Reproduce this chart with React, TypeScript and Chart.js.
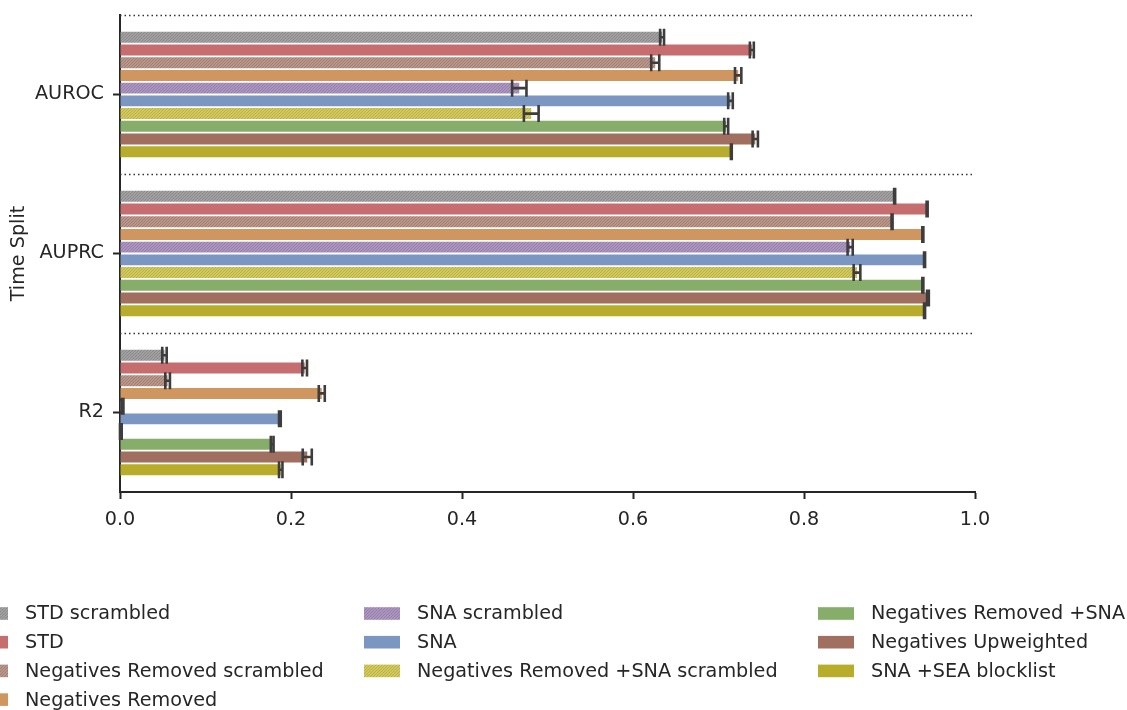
import React, { useEffect, useRef } from "react";
import { Chart, registerables } from "chart.js";

Chart.register(...registerables);

// ---------- data ----------
const categories = ["AUROC", "AUPRC", "R2"];
const seriesNames = [
  "STD scrambled",
  "STD",
  "Negatives Removed scrambled",
  "Negatives Removed",
  "SNA scrambled",
  "SNA",
  "Negatives Removed +SNA scrambled",
  "Negatives Removed +SNA",
  "Negatives Upweighted",
  "SNA +SEA blocklist",
];

const stdScrambled = [0.634, 0.906, 0.052];
const stdScrambledErr = [0.0023, 0.0006, 0.0026];
const std = [0.739, 0.944, 0.216];
const stdErr = [0.0023, 0.0006, 0.0027];
const negRemovedScrambled = [0.626, 0.903, 0.0557];
const negRemovedScrambledErr = [0.0047, 0.0006, 0.0027];
const negRemoved = [0.723, 0.939, 0.236];
const negRemovedErr = [0.0037, 0.0006, 0.0035];
const snaScrambled = [0.467, 0.854, 0.003];
const snaScrambledErr = [0.0084, 0.003, 0.001];
const sna = [0.714, 0.941, 0.187];
const snaErr = [0.0027, 0.0006, 0.001];
const negRemovedSnaScrambled = [0.481, 0.862, 0.001];
const negRemovedSnaScrambledErr = [0.0086, 0.0039, 0.001];
const negRemovedSna = [0.709, 0.939, 0.178];
const negRemovedSnaErr = [0.0023, 0.0006, 0.0016];
const negUpweighted = [0.743, 0.945, 0.219];
const negUpweightedErr = [0.0031, 0.001, 0.0053];
const snaSeaBlocklist = [0.715, 0.941, 0.188];
const snaSeaBlocklistErr = [0.0005, 0.0006, 0.002];

const xTickValues = [0, 0.2, 0.4, 0.6, 0.8, 1.0];

const seriesValues = [
  stdScrambled, std, negRemovedScrambled, negRemoved, snaScrambled,
  sna, negRemovedSnaScrambled, negRemovedSna, negUpweighted, snaSeaBlocklist,
];
const seriesErrors = [
  stdScrambledErr, stdErr, negRemovedScrambledErr, negRemovedErr, snaScrambledErr,
  snaErr, negRemovedSnaScrambledErr, negRemovedSnaErr, negUpweightedErr, snaSeaBlocklistErr,
];

// ---------- styles ----------
const baseColors = [
  "#a0a0a0", "#c56d6f", "#b9968a", "#cf9660", "#ab95bf",
  "#7b96c0", "#d1c85e", "#86ad6a", "#a06f60", "#b8ac2b",
];
const hatchColors = [
  "#8a8a8a", null, "#a07e72", null, "#9580ab",
  null, "#bbb144", null, null, null,
];

const FONT = "'DejaVu Sans', sans-serif";
const FONT_SIZE = 19.2;
const TEXT_COLOR = "#262626";
const AXIS_COLOR = "#262626";

function makeHatch(base: string, line: string): CanvasPattern | string {
  const c = document.createElement("canvas");
  const s = 3;
  c.width = s;
  c.height = s;
  const g = c.getContext("2d");
  if (!g) return base;
  g.fillStyle = base;
  g.fillRect(0, 0, s, s);
  g.strokeStyle = line;
  g.lineWidth = 1;
  g.beginPath();
  g.moveTo(-1, s + 1);
  g.lineTo(s + 1, -1);
  g.moveTo(-1, 1);
  g.lineTo(1, -1);
  g.moveTo(s - 1, s + 1);
  g.lineTo(s + 1, s - 1);
  g.stroke();
  const p = g.createPattern(c, "repeat");
  return p || base;
}

const errorBarPlugin = {
  id: "errorBars",
  afterDatasetsDraw(chart: any) {
    const ctx = chart.ctx;
    const xs = chart.scales.x;
    ctx.save();
    ctx.strokeStyle = "#3d3d3d";
    ctx.lineWidth = 2.6;
    const cap = 8.5;
    chart.data.datasets.forEach((ds: any, di: number) => {
      const meta = chart.getDatasetMeta(di);
      meta.data.forEach((el: any, i: number) => {
        const v = ds.data[i];
        const e = ds.errors[i];
        const x0 = xs.getPixelForValue(v - e);
        const x1 = xs.getPixelForValue(v + e);
        const y = el.y;
        ctx.beginPath();
        ctx.moveTo(x0, y);
        ctx.lineTo(x1, y);
        ctx.moveTo(x0, y - cap);
        ctx.lineTo(x0, y + cap);
        ctx.moveTo(x1, y - cap);
        ctx.lineTo(x1, y + cap);
        ctx.stroke();
      });
    });
    ctx.restore();
  },
};

const groupLinesPlugin = {
  id: "groupLines",
  beforeDatasetsDraw(chart: any) {
    const ctx = chart.ctx;
    const ys = chart.scales.y;
    const area = chart.chartArea;
    const step = ys.getPixelForValue(1) - ys.getPixelForValue(0);
    ctx.save();
    ctx.strokeStyle = "#333333";
    ctx.lineWidth = 1.5;
    ctx.setLineDash([1.5, 3]);
    categories.forEach((_, i) => {
      const y = Math.round(ys.getPixelForValue(i) - step / 2) + 0.5;
      ctx.beginPath();
      ctx.moveTo(area.left, y);
      ctx.lineTo(area.right, y);
      ctx.stroke();
    });
    ctx.restore();
  },
};

const legendPlugin = {
  id: "columnLegend",
  afterDraw(chart: any) {
    const ctx = chart.ctx;
    const colTextX = [25, 417, 871];
    const rowsPerCol = [4, 3, 3];
    const top = 613.5;
    const pitch = 28.7;
    const swW = 36;
    const swH = 12.6;
    const gap = 17;
    ctx.save();
    ctx.font = `${FONT_SIZE}px ${FONT}`;
    ctx.textBaseline = "middle";
    ctx.textAlign = "left";
    let idx = 0;
    rowsPerCol.forEach((n, col) => {
      for (let r = 0; r < n; r++) {
        const ds = chart.data.datasets[idx];
        const y = top + r * pitch;
        const tx = colTextX[col];
        ctx.fillStyle = ds.backgroundColor;
        ctx.fillRect(tx - gap - swW, y - swH / 2, swW, swH);
        ctx.fillStyle = TEXT_COLOR;
        ctx.fillText(ds.label, tx, y + 1);
        idx++;
      }
    });
    ctx.restore();
  },
};

export default function App() {
  const ref = useRef<HTMLCanvasElement | null>(null);

  useEffect(() => {
    if (!ref.current) return;
    Chart.defaults.font.family = FONT;
    const datasets = seriesNames.map((name, i) => {
      const bg = hatchColors[i]
        ? makeHatch(baseColors[i], hatchColors[i] as string)
        : baseColors[i];
      return {
        label: name,
        data: seriesValues[i],
        errors: seriesErrors[i],
        backgroundColor: bg,
        borderWidth: 0,
        barPercentage: 0.86,
        categoryPercentage: 0.8,
      } as any;
    });

    const chart = new Chart(ref.current, {
      type: "bar",
      data: { labels: categories, datasets },
      options: {
        indexAxis: "y",
        responsive: false,
        animation: false,
        devicePixelRatio: 1,
        layout: { padding: { left: 0, right: 152, top: 15, bottom: 178 } },
        plugins: {
          legend: { display: false },
          tooltip: { enabled: false },
        },
        scales: {
          x: {
            type: "linear",
            min: 0,
            max: 1,
            afterFit: (s: any) => {
              s.height = 40;
              s.paddingLeft = 0;
              s.paddingRight = 0;
            },
            afterBuildTicks: (s: any) => {
              s.ticks = xTickValues.map((v) => ({ value: v }));
            },
            ticks: {
              color: TEXT_COLOR,
              font: { size: FONT_SIZE, family: FONT },
              padding: 9,
              maxRotation: 0,
              callback: (v: any) => Number(v).toFixed(1),
            },
            grid: {
              drawOnChartArea: false,
              drawTicks: true,
              tickLength: 7,
              tickColor: AXIS_COLOR,
              tickWidth: 2,
            },
            border: { display: true, color: AXIS_COLOR, width: 2 },
          },
          y: {
            type: "category",
            offset: true,
            z: 1,
            afterFit: (s: any) => {
              s.width = 120;
              s.paddingTop = 0;
              s.paddingBottom = 0;
            },
            title: {
              display: true,
              text: "Time Split",
              color: TEXT_COLOR,
              font: { size: FONT_SIZE, family: FONT, lineHeight: 1.2 },
              padding: { top: 7, bottom: 0 },
            },
            ticks: {
              color: TEXT_COLOR,
              font: { size: FONT_SIZE, family: FONT },
              padding: 9,
            },
            grid: {
              offset: false,
              drawOnChartArea: false,
              drawTicks: true,
              tickLength: 7,
              tickColor: AXIS_COLOR,
              tickWidth: 2,
            },
            border: { display: true, color: AXIS_COLOR, width: 2 },
          },
        },
      },
      plugins: [groupLinesPlugin, errorBarPlugin, legendPlugin],
    });
    return () => chart.destroy();
  }, []);

  return (
    <div style={{ position: "fixed", left: 0, top: 0, width: 1127, height: 710, background: "#ffffff" }}>
      <canvas ref={ref} width={1127} height={710} style={{ width: 1127, height: 710, display: "block" }} />
    </div>
  );
}
